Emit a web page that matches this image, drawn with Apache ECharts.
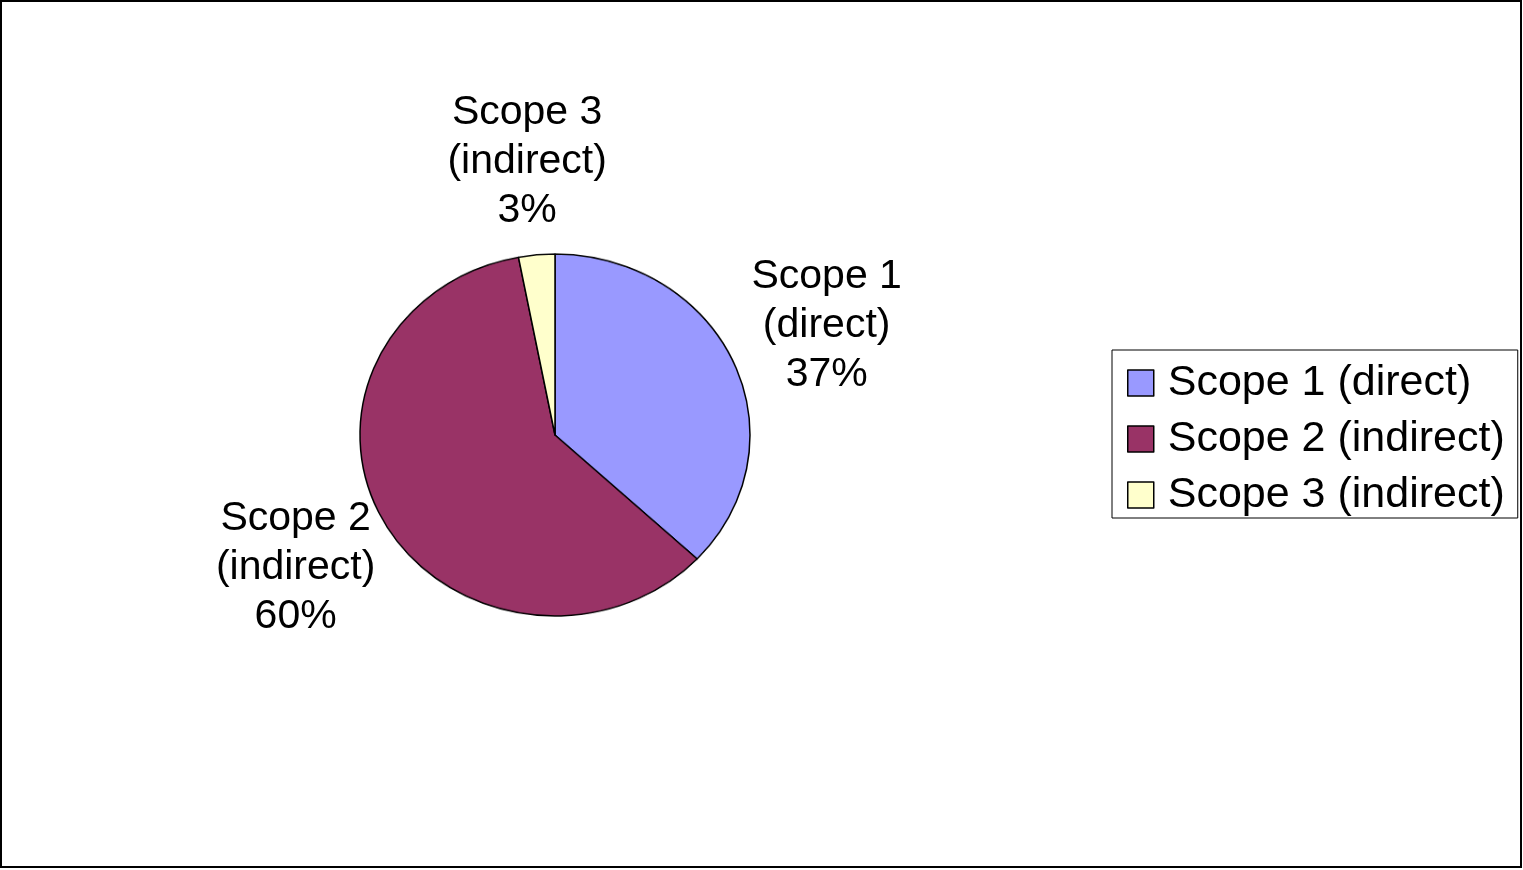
<!DOCTYPE html>
<html>
<head>
<meta charset="utf-8">
<script src="https://cdn.jsdelivr.net/npm/echarts@6/dist/echarts.min.js"></script>
<style>
html,body{margin:0;padding:0;background:#fff;}
#wrap{position:relative;width:1523px;height:870px;}
#pie{position:absolute;left:0;top:0;width:1523px;height:870px;transform:scaleY(0.928);transform-origin:0 435px;}
#chart{position:absolute;left:0;top:0;width:1523px;height:870px;}
</style>
</head>
<body>
<div id="wrap">
<div id="pie"></div>
<div id="chart"></div>
</div>
<script>
var categories = ['Scope 1 (direct)', 'Scope 2 (indirect)', 'Scope 3 (indirect)'];
var values = [37, 60, 3];
var colors = ['#9999FF', '#993366', '#FFFFCC'];

var CX = 555, CY = 435, YSCALE = 0.928;

var pieData = categories.map(function (c, i) {
  return { name: c, value: values[i], itemStyle: { color: colors[i] } };
});
var labelData = categories.map(function (c, i) {
  return { name: c, value: values[i] };
});

// Pie slices (drawn in a vertically scaled layer to form the ellipse)
var pieChart = echarts.init(document.getElementById('pie'));
pieChart.setOption({
  animation: false,
  series: [{
    type: 'pie',
    center: [CX, CY],
    radius: 195,
    startAngle: 90,
    clockwise: true,
    silent: true,
    label: { show: false },
    labelLine: { show: false },
    emphasis: { disabled: true },
    itemStyle: { borderColor: '#000', borderWidth: 1.5 },
    data: pieData
  }]
});

// Labels, legend and frame
var chart = echarts.init(document.getElementById('chart'));
chart.setOption({
  backgroundColor: 'transparent',
  animation: false,
  graphic: [{
    type: 'rect',
    shape: { x: 1, y: 1, width: 1520, height: 866 },
    style: { fill: 'none', stroke: '#000', lineWidth: 2 },
    silent: true
  }],
  legend: {
    data: categories.map(function (c, i) {
      return { name: c, itemStyle: { color: colors[i], borderColor: '#000', borderWidth: 1.5 } };
    }),
    orient: 'vertical',
    left: 1112,
    top: 350,
    padding: [11, 13, 1, 15],
    backgroundColor: '#fff',
    borderColor: '#000',
    borderWidth: 1,
    borderRadius: 0,
    icon: 'rect',
    itemWidth: 26,
    itemHeight: 26,
    itemGap: 12,
    selectedMode: false,
    textStyle: {
      fontFamily: 'Liberation Sans, Arial, sans-serif',
      fontSize: 43,
      lineHeight: 44,
      color: '#000',
      padding: [0, 0, 0, 9]
    }
  },
  series: [{
    type: 'pie',
    name: 'labels',
    center: [CX, CY],
    radius: [283, 303],
    startAngle: 90,
    clockwise: true,
    silent: true,
    percentPrecision: 0,
    itemStyle: { color: 'rgba(0,0,0,0)', borderWidth: 0 },
    emphasis: { disabled: true },
    labelLine: { show: false },
    label: {
      show: true,
      position: 'inside',
      fontFamily: 'Liberation Sans, Arial, sans-serif',
      fontSize: 41,
      lineHeight: 49,
      color: '#000',
      align: 'center',
      verticalAlign: 'middle',
      formatter: function (p) {
        return p.name.replace(' (', '\n(') + '\n' + p.percent + '%';
      }
    },
    labelLayout: function (p) {
      var r = p.labelRect;
      var cx = r.x + r.width / 2;
      var cy = r.y + r.height / 2;
      return { x: cx, y: CY + (cy - CY) * YSCALE };
    },
    data: labelData
  }]
});
</script>
</body>
</html>
